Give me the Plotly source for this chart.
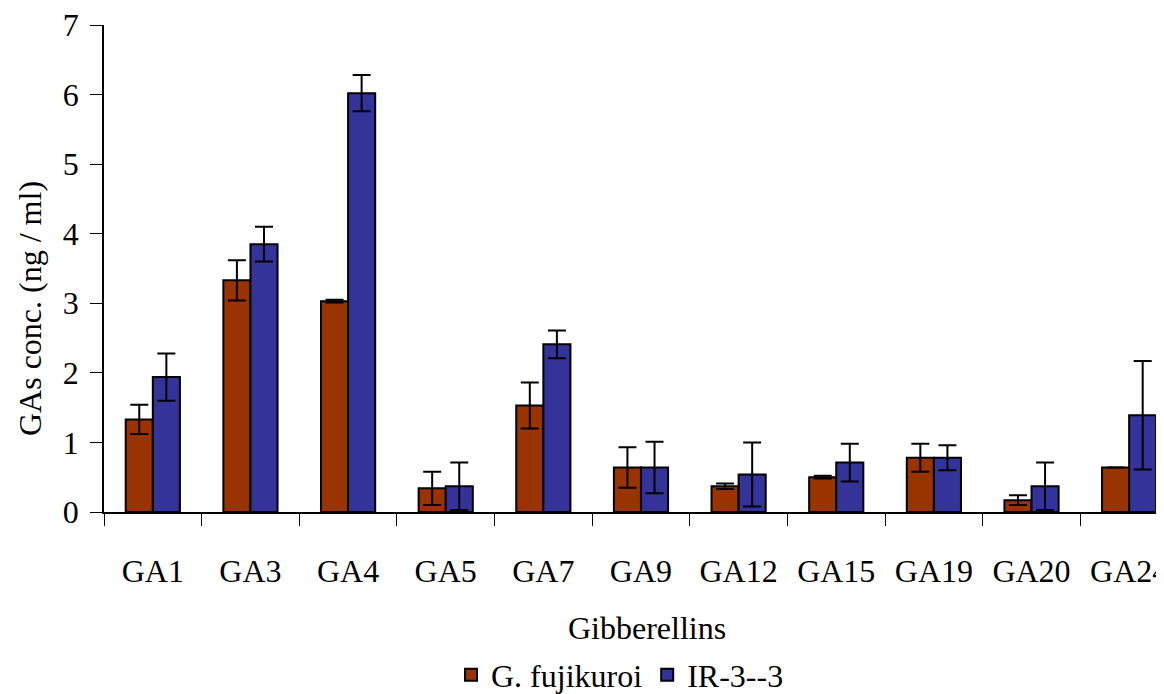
import plotly.graph_objects as go

categories = ["GA1", "GA3", "GA4", "GA5", "GA7", "GA9", "GA12", "GA15", "GA19", "GA20", "GA24"]
fujikuroi = [1.33, 3.33, 3.03, 0.34, 1.53, 0.64, 0.37, 0.50, 0.78, 0.17, 0.64]
fujikuroi_err = [0.21, 0.29, 0.02, 0.24, 0.33, 0.29, 0.04, 0.02, 0.20, 0.07, 0.0]
ir33 = [1.94, 3.85, 6.02, 0.37, 2.41, 0.64, 0.54, 0.71, 0.78, 0.37, 1.39]
ir33_err = [0.34, 0.25, 0.26, 0.34, 0.20, 0.37, 0.46, 0.27, 0.18, 0.34, 0.78]

FONT = "Liberation Serif, Times New Roman, serif"
# page body has an 8px margin, so the figure is offset by 8px
OFF = 8
W, H = 1164 - OFF, 694 - OFF
ML, MR, MT, MB = 104 - OFF, 0, 25 - OFF, 694 - 512
PW, PH = W - ML - MR, H - MT - MB


def px_x(x):
    return (x - OFF - ML) / PW


def px_y(y):
    return ((H - MB) - (y - OFF)) / PH


fig = go.Figure()
fig.add_trace(go.Bar(
    name="G. fujikuroi", x=categories, y=fujikuroi,
    marker=dict(color="#993300", line=dict(color="black", width=2)),
    error_y=dict(type="data", array=fujikuroi_err, visible=True,
                 color="black", thickness=2, width=9),
))
fig.add_trace(go.Bar(
    name="IR-3--3", x=categories, y=ir33,
    marker=dict(color="#333399", line=dict(color="black", width=2)),
    error_y=dict(type="data", array=ir33_err, visible=True,
                 color="black", thickness=2, width=9),
))

fig.update_layout(
    width=W, height=H,
    margin=dict(l=ML, r=MR, t=MT, b=MB, autoexpand=False),
    paper_bgcolor="white", plot_bgcolor="white",
    barmode="group", bargap=0.445, bargroupgap=0,
    font=dict(family=FONT, size=32, color="black"),
    showlegend=True,
    legend=dict(orientation="h", xref="container", yref="container",
                x=(620 - OFF) / W, y=1 - (675 - OFF) / H,
                xanchor="center", yanchor="middle",
                font=dict(family=FONT, size=32), itemwidth=30,
                tracegroupgap=0, bgcolor="rgba(0,0,0,0)"),
    xaxis=dict(
        range=[-0.5, 10.357], showline=True, linecolor="black", linewidth=1.5,
        ticks="outside", tickson="boundaries", ticklen=12, tickcolor="black",
        tickwidth=1.2, showgrid=False, zeroline=False,
        tickfont=dict(family=FONT, size=32), ticklabelstandoff=30,
        ticklabeloverflow="allow",
    ),
    yaxis=dict(
        range=[0, 7], dtick=1, showline=True, linecolor="black", linewidth=1.5,
        ticks="outside", ticklen=12, tickcolor="black", tickwidth=1.2,
        showgrid=False, zeroline=False,
        tickfont=dict(family=FONT, size=32), ticklabelstandoff=5,
        ticklabeloverflow="allow",
    ),
    annotations=[
        dict(text="Gibberellins", xref="paper", yref="paper",
             x=px_x(647), y=px_y(628),
             xanchor="center", yanchor="middle", showarrow=False,
             font=dict(family=FONT, size=32)),
        dict(text="GAs conc. (ng / ml)", xref="paper", yref="paper",
             x=px_x(30), y=px_y(309),
             xanchor="center", yanchor="middle", showarrow=False, textangle=-90,
             font=dict(family=FONT, size=32)),
    ],
)

fig.write_html("out.html")
